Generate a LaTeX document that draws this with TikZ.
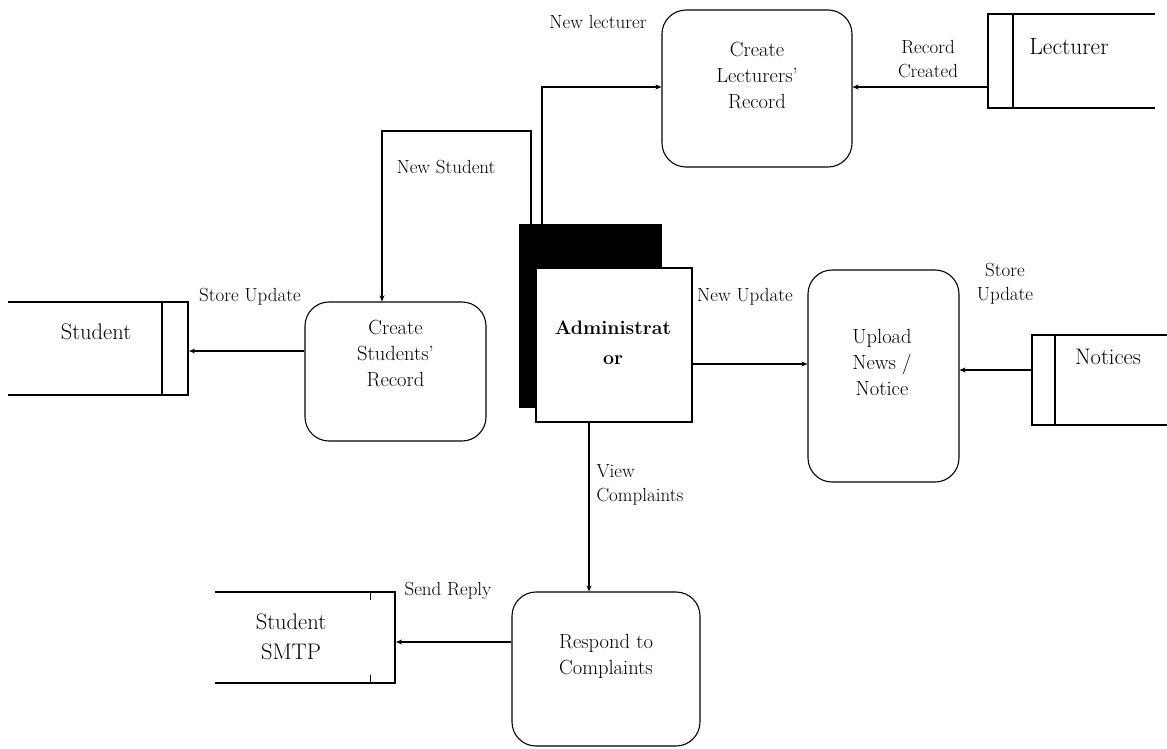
\documentclass[tikz,border=0pt]{standalone}
\usepackage{fontspec}
\setmainfont{Latin Modern Roman}
\usetikzlibrary{arrows.meta,calc}
\begin{document}
\begin{tikzpicture}[x=1pt,y=-1pt,
  line width=1.1pt,
  proc/.style={draw, rounded corners=24pt, inner sep=0pt},
  ptext/.style={align=center, font=\fontsize{20.5}{26}\selectfont, inner sep=0pt},
  stext/.style={align=center, font=\fontsize{22.5}{30}\selectfont, inner sep=0pt},
  lbl/.style={align=center, font=\fontsize{19}{24}\selectfont, inner sep=0pt},
  store/.style={inner sep=0pt},
  flow/.style={-{Stealth[length=6pt,width=5pt]}}
]
\useasboundingbox (0,0) rectangle (1167,748);

% processes
\node[proc, minimum width=190pt, minimum height=157pt] (lect) at (757,88.5) {};
\node[ptext] (lectT) at (757,75) {Create\\Lecturers'\\Record};
\node[proc, minimum width=181pt, minimum height=139pt] (stud) at (395.5,371.5) {};
\node[ptext] (studT) at (395.5,353) {Create\\Students'\\Record};
\node[proc, minimum width=151pt, minimum height=212pt] (upl) at (883.5,376) {};
\node[ptext] (uplT) at (882,362) {Upload\\News /\\Notice};
\node[proc, minimum width=188pt, minimum height=154pt] (resp) at (606,669) {};
\node[ptext] (respT) at (606,656) {Respond to\\Complaints};

% administrator
\node[fill=black, draw=black, minimum width=141pt, minimum height=182pt, inner sep=0pt] (shadow) at (590.5,316) {};
\node[fill=white, draw=black, minimum width=156pt, minimum height=154pt, inner sep=0pt] (admin) at (614,345) {};
\node[ptext, font=\fontsize{19.5}{30}\bfseries\selectfont] (adminT) at (613,343) {Administrat\\or};

% data stores
\node[store, minimum width=1pt, minimum height=94pt] (lecS) at (988,61) {};
\draw (1155,14) -- (988,14) -- (988,108) -- (1155,108);
\draw (1013,14) -- (1013,108);
\node[stext, font=\fontsize{23.5}{30}\selectfont] (lecST) at (1069,47) {Lecturer};

\node[store, minimum width=1pt, minimum height=93pt] (stS) at (188,348.5) {};
\draw (8,302) -- (188,302) -- (188,395) -- (8,395);
\draw (162,302) -- (162,395);
\node[stext] (stST) at (96,332) {Student};

\node[store, minimum width=1pt, minimum height=90pt] (notS) at (1032,380) {};
\draw (1167,335) -- (1032,335) -- (1032,425) -- (1167,425);
\draw (1055,335) -- (1055,425);
\node[stext] (notST) at (1108,357) {Notices};

\node[store, minimum width=1pt, minimum height=91pt] (smS) at (395,637.5) {};
\draw (215,592) -- (395,592) -- (395,683) -- (215,683);
\draw[line width=0.8pt] (370,592) -- (370,600) (370,675) -- (370,683);
\node[stext] (smST) at (291,637) {Student\\SMTP};

% connectors
\coordinate (aTop1) at (542,225);
\coordinate (aTop2) at (531,225);
\draw[flow] (aTop1) |- (lect.west |- 0,87);
\draw[flow] (aTop2) -- (531,131) -| (stud.north -| 382,0);
\draw[flow] (lecS.west |- 0,87) -- (lect.east |- 0,87);
\draw[flow] (stud.west |- 0,351) -- (stS.east |- 0,351);
\draw[flow] (admin.east |- 0,364) -- (upl.west |- 0,364);
\draw[flow] (notS.west |- 0,370) -- (upl.east |- 0,370);
\draw[flow] (admin.south -| 589,0) -- (resp.north -| 589,0);
\draw[flow] (resp.west |- 0,642) -- (smS.east |- 0,642);

% labels
\node[lbl] (l1) at (598,22) {New lecturer};
\node[lbl] (l2) at (928,59) {Record\\Created};
\node[lbl] (l3) at (446,167) {New Student};
\node[lbl] (l4) at (250,297) {Store Update};
\node[lbl] (l5) at (745,297) {New Update};
\node[lbl] (l6) at (1005,284) {Store\\Update};
\node[lbl, align=left, anchor=west] (l7) at (596,485) {View\\Complaints};
\node[lbl] (l8) at (448,591) {Send Reply};
\end{tikzpicture}
\end{document}
